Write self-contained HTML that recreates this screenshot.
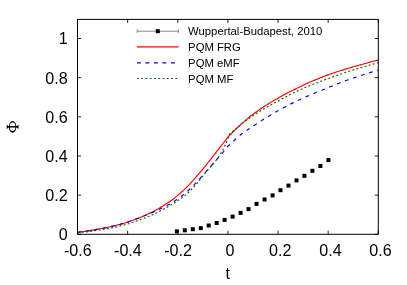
<!DOCTYPE html><html><head><meta charset="utf-8"><style>
html,body{margin:0;padding:0;background:#fff}
#w{position:relative;width:407px;height:285px;overflow:hidden;background:#fff;font-family:"Liberation Sans",sans-serif;color:#000}
#tx{position:absolute;left:0;top:0;width:407px;height:285px;will-change:transform;opacity:0.999}
.t{position:absolute;white-space:nowrap;line-height:1}
.xl{font-size:16.1px;transform:translateX(-50%);top:242px}
.yl{font-size:16.1px;right:339.4px}
.lg{font-size:11.3px;left:188.1px}
</style></head><body><div id="w">
<svg width="407" height="285" viewBox="0 0 407 285" style="position:absolute;left:0;top:0">
<clipPath id="c"><rect x="77.5" y="19.4" width="300.8" height="214.9"/></clipPath>
<path d="M77.50,234.3 v-3.6 M77.50,19.4 v3.6 M127.63,234.3 v-3.6 M127.63,19.4 v3.6 M177.77,234.3 v-3.6 M177.77,19.4 v3.6 M227.90,234.3 v-3.6 M227.90,19.4 v3.6 M278.03,234.3 v-3.6 M278.03,19.4 v3.6 M328.17,234.3 v-3.6 M328.17,19.4 v3.6 M378.30,234.3 v-3.6 M378.30,19.4 v3.6 M77.5,234.30 h3.6 M378.3,234.30 h-3.6 M77.5,195.14 h3.6 M378.3,195.14 h-3.6 M77.5,155.98 h3.6 M378.3,155.98 h-3.6 M77.5,116.82 h3.6 M378.3,116.82 h-3.6 M77.5,77.66 h3.6 M378.3,77.66 h-3.6 M77.5,38.50 h3.6 M378.3,38.50 h-3.6" stroke="#000" stroke-width="0.85" fill="none"/>
<g clip-path="url(#c)" fill="none" stroke-width="1.15">
<path d="M77.50,232.28 L79.00,232.10 L80.50,231.91 L82.00,231.72 L83.50,231.51 L85.00,231.31 L86.50,231.08 L88.00,230.86 L89.50,230.63 L91.00,230.38 L92.50,230.13 L94.00,229.88 L95.50,229.60 L97.00,229.33 L98.50,229.04 L100.00,228.75 L101.50,228.48 L103.00,228.20 L104.50,227.91 L106.00,227.61 L107.50,227.30 L109.00,226.98 L110.50,226.66 L112.00,226.32 L113.50,225.97 L115.00,225.61 L116.50,225.24 L118.00,224.86 L119.50,224.48 L121.00,224.08 L122.50,223.67 L124.00,223.25 L125.50,222.82 L127.00,222.33 L128.50,221.84 L130.00,221.32 L131.50,220.79 L133.00,220.25 L134.50,219.71 L136.00,219.14 L137.50,218.56 L139.00,217.97 L140.50,217.35 L142.00,216.74 L143.50,216.09 L145.00,215.43 L146.50,214.77 L148.00,214.08 L149.50,213.37 L151.00,212.64 L152.50,211.89 L154.00,211.12 L155.50,210.31 L157.00,209.48 L158.50,208.63 L160.00,207.74 L161.50,206.83 L163.00,205.89 L164.50,204.92 L166.00,203.97 L167.50,203.01 L169.00,202.02 L170.50,201.00 L172.00,199.94 L173.50,198.79 L175.00,197.61 L176.50,196.38 L178.00,195.14 L179.50,193.86 L181.00,192.54 L182.50,191.21 L184.00,189.84 L185.50,188.40 L187.00,186.90 L188.50,185.37 L190.00,183.82 L191.50,182.21 L193.00,180.56 L194.50,178.89 L196.00,177.18 L197.50,175.45 L199.00,173.67 L200.50,171.87 L202.00,170.05 L203.50,168.22 L205.00,166.40 L206.50,164.55 L208.00,162.67 L209.50,160.79 L211.00,158.89 L212.50,156.96 L214.00,155.01 L215.50,153.08 L217.00,151.19 L218.50,149.29 L220.00,147.37 L221.50,145.44 L223.00,143.49 L224.50,141.53 L226.00,139.55 L227.50,137.56 L227.70,137.30 L229.20,135.76 L230.70,134.24 L232.20,132.74 L233.70,131.27 L235.20,129.82 L236.70,128.39 L238.20,126.99 L239.70,125.60 L241.20,124.24 L242.70,122.90 L244.20,121.58 L245.70,120.28 L247.20,119.01 L248.70,117.75 L250.20,116.51 L251.70,115.30 L253.20,114.16 L254.70,113.05 L256.20,111.97 L257.70,110.90 L259.20,109.85 L260.70,108.82 L262.20,107.81 L263.70,106.82 L265.20,105.84 L266.70,104.88 L268.20,103.94 L269.70,103.02 L271.20,102.12 L272.70,101.23 L274.20,100.35 L275.70,99.50 L277.20,98.65 L278.70,97.78 L280.20,96.92 L281.70,96.07 L283.20,95.24 L284.70,94.43 L286.20,93.63 L287.70,92.84 L289.20,92.06 L290.70,91.31 L292.20,90.56 L293.70,89.83 L295.20,89.11 L296.70,88.41 L298.20,87.66 L299.70,86.93 L301.20,86.19 L302.70,85.47 L304.20,84.77 L305.70,84.07 L307.20,83.40 L308.70,82.72 L310.20,82.06 L311.70,81.41 L313.20,80.76 L314.70,80.14 L316.20,79.51 L317.70,78.89 L319.20,78.29 L320.70,77.69 L322.20,77.11 L323.70,76.53 L325.20,75.96 L326.70,75.40 L328.20,74.85 L329.70,74.30 L331.20,73.76 L332.70,73.22 L334.20,72.70 L335.70,72.20 L337.20,71.71 L338.70,71.23 L340.20,70.76 L341.70,70.29 L343.20,69.83 L344.70,69.38 L346.20,68.92 L347.70,68.48 L349.20,68.04 L350.70,67.60 L352.20,67.16 L353.70,66.73 L355.20,66.30 L356.70,65.88 L358.20,65.46 L359.70,65.03 L361.20,64.61 L362.70,64.20 L364.20,63.78 L365.70,63.37 L367.20,62.96 L368.70,62.54 L370.20,62.13 L371.70,61.73 L373.20,61.31 L374.70,60.90 L376.20,60.49 L377.70,60.08 L378.50,59.86" stroke="#ff0000"/>
<path d="M77.50,232.26 L79.00,232.10 L80.50,231.93 L82.00,231.76 L83.50,231.56 L85.00,231.36 L86.50,231.15 L88.00,230.93 L89.50,230.71 L91.00,230.46 L92.50,230.22 L94.00,229.96 L95.50,229.69 L97.00,229.41 L98.50,229.12 L100.00,228.82 L101.50,228.54 L103.00,228.26 L104.50,227.96 L106.00,227.66 L107.50,227.34 L109.00,227.02 L110.50,226.68 L112.00,226.34 L113.50,225.98 L115.00,225.61 L116.50,225.24 L118.00,224.85 L119.50,224.46 L121.00,224.06 L122.50,223.64 L124.00,223.22 L125.50,222.78 L127.00,222.30 L128.50,221.80 L130.00,221.28 L131.50,220.76 L133.00,220.22 L134.50,219.69 L136.00,219.13 L137.50,218.56 L139.00,217.99 L140.50,217.40 L142.00,216.81 L143.50,216.21 L145.00,215.59 L146.50,214.97 L148.00,214.36 L149.50,213.72 L151.00,213.06 L152.50,212.39 L154.00,211.70 L155.50,211.01 L157.00,210.29 L158.50,209.62 L160.00,208.94 L161.50,208.25 L163.00,207.53 L164.50,206.78 L166.00,206.02 L167.50,205.24 L169.00,204.42 L170.50,203.56 L172.00,202.65 L173.50,201.72 L175.00,200.75 L176.50,199.75 L178.00,198.73 L179.50,197.67 L181.00,196.59 L182.50,195.48 L184.00,194.34 L185.50,193.06 L187.00,191.68 L188.50,190.28 L190.00,188.84 L191.50,187.37 L193.00,185.88 L194.50,184.37 L196.00,182.83 L197.50,181.23 L199.00,179.58 L200.50,177.90 L202.00,176.19 L203.50,174.49 L205.00,172.83 L206.50,171.14 L208.00,169.43 L209.50,167.72 L211.00,166.06 L212.50,164.36 L214.00,162.65 L215.50,160.91 L217.00,159.14 L218.50,157.35 L223.50,151.60 L227.60,146.50 L231.00,143.40 L234.50,140.30 L239.50,135.69 L241.00,134.53 L242.50,133.38 L244.00,132.25 L245.50,131.21 L247.00,130.18 L248.50,129.17 L250.00,128.17 L251.50,127.20 L253.00,126.23 L254.50,125.28 L256.00,124.28 L257.50,123.27 L259.00,122.27 L260.50,121.29 L262.00,120.31 L263.50,119.36 L265.00,118.42 L266.50,117.48 L268.00,116.57 L269.50,115.66 L271.00,114.76 L272.50,113.89 L274.00,113.02 L275.50,112.16 L277.00,111.32 L278.50,110.48 L280.00,109.64 L281.50,108.82 L283.00,108.01 L284.50,107.21 L286.00,106.42 L287.50,105.64 L289.00,104.87 L290.50,104.11 L292.00,103.37 L293.50,102.62 L295.00,101.90 L296.50,101.18 L298.00,100.46 L299.50,99.77 L301.00,99.08 L302.50,98.39 L304.00,97.71 L305.50,97.05 L307.00,96.38 L308.50,95.73 L310.00,95.09 L311.50,94.45 L313.00,93.82 L314.50,93.20 L316.00,92.58 L317.50,91.98 L319.00,91.38 L320.50,90.77 L322.00,90.19 L323.50,89.56 L325.00,88.93 L326.50,88.31 L328.00,87.70 L329.50,87.09 L331.00,86.49 L332.50,85.89 L334.00,85.30 L335.50,84.68 L337.00,84.06 L338.50,83.44 L340.00,82.84 L341.50,82.23 L343.00,81.63 L344.50,81.04 L346.00,80.50 L347.50,79.99 L349.00,79.48 L350.50,78.98 L352.00,78.48 L353.50,77.98 L355.00,77.48 L356.50,76.98 L358.00,76.49 L359.50,76.00 L361.00,75.51 L362.50,75.02 L364.00,74.53 L365.50,74.04 L367.00,73.56 L368.50,73.07 L370.00,72.59 L371.50,72.10 L373.00,71.62 L374.50,71.13 L376.00,70.64 L377.50,70.16 L378.50,69.83" stroke="#0000ff" stroke-dasharray="3.8,4.7"/>
<path d="M77.50,232.73 L79.00,232.59 L80.50,232.45 L82.00,232.30 L83.50,232.15 L85.00,231.99 L86.50,231.81 L88.00,231.63 L89.50,231.45 L91.00,231.24 L92.50,231.04 L94.00,230.82 L95.50,230.60 L97.00,230.36 L98.50,230.11 L100.00,229.86 L101.50,229.64 L103.00,229.42 L104.50,229.18 L106.00,228.92 L107.50,228.66 L109.00,228.40 L110.50,228.11 L112.00,227.81 L113.50,227.51 L115.00,227.20 L116.50,226.87 L118.00,226.52 L119.50,226.17 L121.00,225.79 L122.50,225.40 L124.00,225.00 L125.50,224.58 L127.00,224.15 L128.50,223.70 L130.00,223.25 L131.50,222.78 L133.00,222.29 L134.50,221.80 L136.00,221.28 L137.50,220.76 L139.00,220.23 L140.50,219.67 L142.00,219.10 L143.50,218.52 L145.00,217.92 L146.50,217.30 L148.00,216.67 L149.50,216.01 L151.00,215.35 L152.50,214.66 L154.00,213.95 L155.50,213.24 L157.00,212.51 L158.50,211.77 L160.00,211.00 L161.50,210.22 L163.00,209.43 L164.50,208.61 L166.00,207.78 L167.50,206.93 L169.00,206.06 L170.50,205.19 L172.00,204.29 L173.50,203.36 L175.00,202.43 L176.50,201.47 L178.00,200.49 L179.50,199.49 L181.00,198.47 L182.50,197.41 L184.00,196.32 L185.50,195.09 L187.00,193.74 L188.50,192.35 L190.00,190.90 L191.50,189.39 L193.00,187.83 L194.50,186.20 L196.00,184.50 L197.50,182.71 L199.00,180.85 L200.50,178.95 L202.00,177.03 L203.50,175.13 L205.00,173.29 L206.50,171.46 L208.00,169.65 L209.50,167.90 L211.00,166.24 L212.50,164.57 L214.00,162.85 L215.50,161.05 L217.00,159.13 L218.50,157.05 L220.00,154.79 L221.50,152.31 L223.00,149.56 L224.50,146.52 L226.00,143.15 L227.50,139.42 L229.00,135.28 L229.30,134.40 L230.80,133.05 L232.30,131.71 L233.80,130.40 L235.30,129.11 L236.80,127.84 L238.30,126.58 L239.80,125.35 L241.30,124.15 L242.80,122.98 L244.30,121.82 L245.80,120.69 L247.30,119.56 L248.80,118.47 L250.30,117.38 L251.80,116.31 L253.30,115.31 L254.80,114.35 L256.30,113.40 L257.80,112.47 L259.30,111.55 L260.80,110.65 L262.30,109.76 L263.80,108.90 L265.30,108.03 L266.80,107.17 L268.30,106.32 L269.80,105.48 L271.30,104.66 L272.80,103.86 L274.30,103.07 L275.80,102.28 L277.30,101.51 L278.80,100.66 L280.30,99.84 L281.80,99.02 L283.30,98.22 L284.80,97.43 L286.30,96.65 L287.80,95.87 L289.30,95.08 L290.80,94.31 L292.30,93.55 L293.80,92.80 L295.30,92.05 L296.80,91.33 L298.30,90.62 L299.80,89.94 L301.30,89.25 L302.80,88.59 L304.30,87.92 L305.80,87.28 L307.30,86.64 L308.80,86.00 L310.30,85.38 L311.80,84.78 L313.30,84.18 L314.80,83.59 L316.30,83.02 L317.80,82.43 L319.30,81.87 L320.80,81.31 L322.30,80.75 L323.80,80.19 L325.30,79.62 L326.80,79.07 L328.30,78.52 L329.80,77.98 L331.30,77.44 L332.80,76.90 L334.30,76.38 L335.80,75.84 L337.30,75.30 L338.80,74.76 L340.30,74.22 L341.80,73.69 L343.30,73.16 L344.80,72.64 L346.30,72.16 L347.80,71.69 L349.30,71.21 L350.80,70.75 L352.30,70.29 L353.80,69.84 L355.30,69.37 L356.80,68.92 L358.30,68.47 L359.80,68.03 L361.30,67.59 L362.80,67.16 L364.30,66.72 L365.80,66.28 L367.30,65.84 L368.80,65.41 L370.30,64.97 L371.80,64.53 L373.30,64.10 L374.80,63.66 L376.30,63.22 L377.80,62.78 L378.50,62.57" stroke="#006400" stroke-dasharray="1.9,2.35"/>
</g>
<rect x="174.9" y="229.4" width="4" height="4" fill="#000"/>
<rect x="182.8" y="228.3" width="4" height="4" fill="#000"/>
<rect x="190.8" y="227.2" width="4" height="4" fill="#000"/>
<rect x="198.8" y="226.1" width="4" height="4" fill="#000"/>
<rect x="206.7" y="223.5" width="4" height="4" fill="#000"/>
<rect x="214.7" y="221.0" width="4" height="4" fill="#000"/>
<rect x="222.6" y="217.9" width="4" height="4" fill="#000"/>
<rect x="230.6" y="214.6" width="4" height="4" fill="#000"/>
<rect x="238.6" y="210.9" width="4" height="4" fill="#000"/>
<rect x="246.5" y="207.1" width="4" height="4" fill="#000"/>
<rect x="254.5" y="201.9" width="4" height="4" fill="#000"/>
<rect x="262.6" y="197.5" width="4" height="4" fill="#000"/>
<rect x="270.6" y="193.4" width="4" height="4" fill="#000"/>
<rect x="278.5" y="188.2" width="4" height="4" fill="#000"/>
<rect x="286.5" y="183.6" width="4" height="4" fill="#000"/>
<rect x="294.5" y="178.4" width="4" height="4" fill="#000"/>
<rect x="302.4" y="173.8" width="4" height="4" fill="#000"/>
<rect x="310.4" y="168.8" width="4" height="4" fill="#000"/>
<rect x="318.4" y="164.0" width="4" height="4" fill="#000"/>
<rect x="326.4" y="158.1" width="4" height="4" fill="#000"/>
<path d="M137.1,31.2 H178.4" stroke="#6a6a6a" stroke-width="0.8" fill="none"/>
<path d="M137.1,29.4 v3.6 M178.4,29.4 v3.6" stroke="#666" stroke-width="0.7" fill="none"/>
<rect x="155.8" y="29.2" width="4" height="4" fill="#000"/>
<path d="M137,46.8 H178.6" stroke="#ff0000" stroke-width="1.15"/>
<path d="M137,62.85 H178.6" stroke="#0000ff" stroke-width="1.15" stroke-dasharray="3.8,4.7"/>
<path d="M137,78.45 H178.6" stroke="#006400" stroke-width="1.15" stroke-dasharray="1.9,2.35"/>
<rect x="77.5" y="19.4" width="300.8" height="214.9" fill="none" stroke="#000" stroke-width="1"/>
<g><ellipse cx="12.6" cy="126.8" rx="3.75" ry="5.9" fill="#000"/><ellipse cx="12.6" cy="126.8" rx="2.8" ry="4.2" fill="#fff"/><path d="M7.2,126.8 H18.0" stroke="#000" stroke-width="1.5"/><path d="M6.9,124.9 L8.2,126.2 V127.4 L6.9,128.7 Z M18.3,124.9 L17.0,126.2 V127.4 L18.3,128.7 Z" fill="#000" stroke="#000" stroke-width="0.4"/></g>
</svg>
<div id="tx">
<div class="t xl" style="left:77.8px">-0.6</div>
<div class="t xl" style="left:127.9px">-0.4</div>
<div class="t xl" style="left:178.1px">-0.2</div>
<div class="t xl" style="left:230.1px">0</div>
<div class="t xl" style="left:280.2px">0.2</div>
<div class="t xl" style="left:330.4px">0.4</div>
<div class="t xl" style="left:380.5px">0.6</div>
<div class="t yl" style="top:226px">0</div>
<div class="t yl" style="top:187px">0.2</div>
<div class="t yl" style="top:148px">0.4</div>
<div class="t yl" style="top:109px">0.6</div>
<div class="t yl" style="top:70px">0.8</div>
<div class="t yl" style="top:30px">1</div>
<div class="t lg" style="top:26px">Wuppertal-Budapest, 2010</div>
<div class="t lg" style="top:42px">PQM FRG</div>
<div class="t lg" style="top:58px">PQM eMF</div>
<div class="t lg" style="top:74px">PQM MF</div>
<div class="t" style="font-size:16.1px;left:227.8px;top:265px;transform:translateX(-50%)">t</div>
</div></div></body></html>
